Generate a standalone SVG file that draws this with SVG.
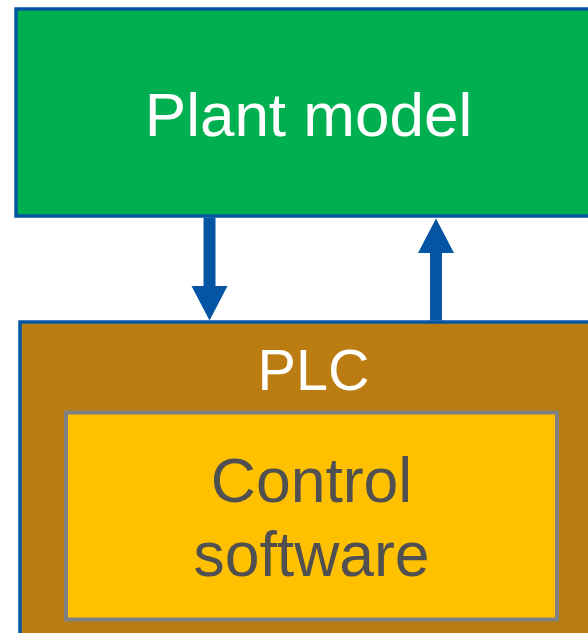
<svg xmlns="http://www.w3.org/2000/svg" width="588" height="633" viewBox="0 0 588 633">
<style>
.box{stroke:#0455A4;stroke-width:3.5}
.arrow{fill:#0455A4}
.lbl{font-family:"Liberation Sans",Arial,sans-serif;text-anchor:middle}
</style>
<rect width="588" height="633" fill="#FFFFFF"/>
<g id="plant-model">
<rect class="box" x="16" y="9" width="600" height="207" fill="#00B050"/>
<text class="lbl" x="308.5" y="136" font-size="62" fill="#FFFFFF">Plant model</text>
</g>
<g id="plc">
<rect class="box" x="20" y="322" width="600" height="330" fill="#BB7D12"/>
<text class="lbl" x="313.5" y="390" font-size="57.5" fill="#FFFFFF">PLC</text>
</g>
<g id="control-software">
<rect x="66" y="412.5" width="491" height="207" fill="#FFC000" stroke="#808080" stroke-width="4"/>
<text class="lbl" font-size="62.5" fill="#505050"><tspan x="311.5" y="502">Control</tspan><tspan x="311.5" y="576">software</tspan></text>
</g>
<g id="connectors">
<polygon class="arrow" points="203.5,217.5 215.5,217.5 215.5,286 227.5,286 209.5,320.5 191.5,286 203.5,286"/>
<polygon class="arrow" points="430,320.5 442,320.5 442,253 454,253 436,218.5 418,253 430,253"/>
</g>
</svg>
